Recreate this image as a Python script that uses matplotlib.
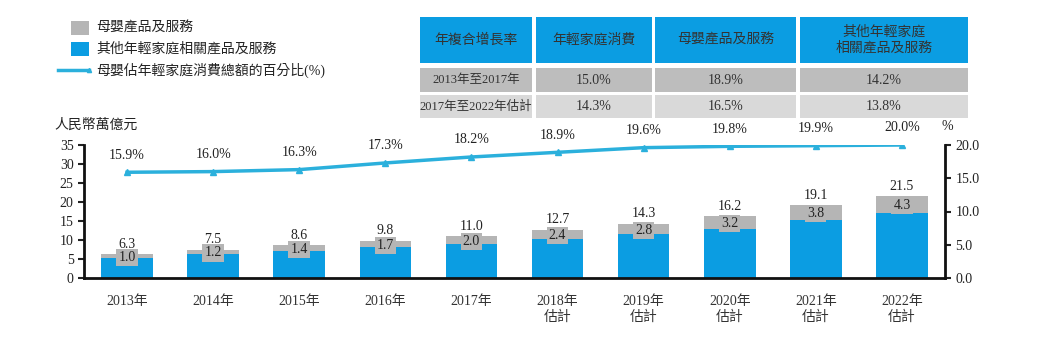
import matplotlib
matplotlib.use("Agg")
import matplotlib.pyplot as plt
from matplotlib.patches import Rectangle
from matplotlib.lines import Line2D

plt.rcParams['font.family'] = ['Liberation Serif', 'Noto Sans CJK TC']

years = ["2013年", "2014年", "2015年", "2016年", "2017年",
         "2018年\n估計", "2019年\n估計", "2020年\n估計", "2021年\n估計", "2022年\n估計"]
totals = [6.3, 7.5, 8.6, 9.8, 11.0, 12.7, 14.3, 16.2, 19.1, 21.5]
maternal = [1.0, 1.2, 1.4, 1.7, 2.0, 2.4, 2.8, 3.2, 3.8, 4.3]
others = [round(t - m, 1) for t, m in zip(totals, maternal)]
pct = [15.9, 16.0, 16.3, 17.3, 18.2, 18.9, 19.6, 19.8, 19.9, 20.0]

legend_labels = ["母嬰產品及服務", "其他年輕家庭相關產品及服務", "母嬰佔年輕家庭消費總額的百分比(%)"]
table_header = ["年複合增長率", "年輕家庭消費", "母嬰產品及服務", "其他年輕家庭\n相關產品及服務"]
table_rows = [["2013年至2017年", "15.0%", "18.9%", "14.2%"],
              ["2017年至2022年估計", "14.3%", "16.5%", "13.8%"]]

BLUE = "#0b9de2"
GRAY = "#b5b5b5"
LINE = "#2bb0dc"

fig = plt.figure(figsize=(10.4, 3.45), dpi=100)
W, H = 1040, 345
ax = fig.add_axes([84 / W, (H - 278) / H, (945 - 84) / W, (278 - 145) / H])
ax2 = ax.twinx()

x = list(range(len(years)))
ax.bar(x, others, width=0.6, color=BLUE, zorder=2)
ax.bar(x, maternal, bottom=others, width=0.6, color=GRAY, zorder=2)

for i in x:
    ax.text(i, others[i] + maternal[i] / 2 - 0.3, f"{maternal[i]:.1f}", ha='center', va='center',
            fontsize=10, color='#222222', zorder=4,
            bbox=dict(boxstyle='square,pad=0.15', fc=GRAY, ec='none'))
    ax.text(i, totals[i] + 0.9, f"{totals[i]:.1f}", ha='center', va='bottom',
            fontsize=10, color='#222222', zorder=4)

ax.set_xlim(-0.5, 9.5)
ax.set_ylim(0, 35)
ax.set_yticks(range(0, 36, 5))
ax.set_xticks(x)
ax.set_xticklabels(years, fontsize=10, color='#333333', linespacing=1.3)
ax.tick_params(axis='x', length=0, pad=12)
ax.tick_params(axis='y', labelsize=10, length=4, width=1.5, colors='#222222')

ax2.plot(x, pct, color=LINE, lw=2.5, marker='^', ms=4, zorder=3)
for i in x:
    ax2.text(i, pct[i] + 1.6, f"{pct[i]:.1f}%", ha='center', va='bottom', fontsize=10, color='#222222')
ax2.set_ylim(0, 20)
ax2.set_yticks([0, 5, 10, 15, 20])
ax2.set_yticklabels([f"{v:.1f}" for v in [0, 5, 10, 15, 20]])
ax2.tick_params(axis='y', labelsize=10, length=4, width=1.5, colors='#222222')

for a in (ax, ax2):
    a.spines['top'].set_visible(False)
    for s in ('left', 'right', 'bottom'):
        a.spines[s].set_linewidth(2)
        a.spines[s].set_color('#111111')
ax.spines['right'].set_visible(False)
ax2.spines['left'].set_visible(False)
ax2.spines['bottom'].set_visible(False)

fig.text(54 / W, (H - 125) / H, "人民幣萬億元", fontsize=10, va='center', ha='left', color='#222222')
fig.text(941 / W, (H - 126) / H, "%", fontsize=10, va='center', ha='left', color='#222222')

# legend
fig.patches.append(Rectangle((71 / W, (H - 35) / H), 18 / W, 14 / H, transform=fig.transFigure,
                             fc=GRAY, ec='none'))
fig.patches.append(Rectangle((71 / W, (H - 56) / H), 18 / W, 14 / H, transform=fig.transFigure,
                             fc=BLUE, ec='none'))
fig.lines.append(Line2D([58 / W, 89 / W], [(H - 70) / H] * 2, transform=fig.transFigure,
                        color=LINE, lw=2.5, marker='^', ms=3, markevery=[1]))
for k, yy in enumerate([28, 49, 70]):
    fig.text(96 / W, (H - yy) / H, legend_labels[k], fontsize=10, va='center', ha='left', color='#222222')

# table
cols = [(420, 532), (536, 652), (655, 796), (800, 968)]
rows = [(17, 63, BLUE), (68, 92, "#bdbdbd"), (95, 118, "#d9d9d9")]
for r, (y0, y1, c) in enumerate(rows):
    for ci, (x0, x1) in enumerate(cols):
        fig.patches.append(Rectangle((x0 / W, (H - y1) / H), (x1 - x0) / W, (y1 - y0) / H,
                                     transform=fig.transFigure, fc=c, ec='none'))
        txt = table_header[ci] if r == 0 else table_rows[r - 1][ci]
        fs = 10 if (r == 0 or ci > 0) else 9
        fig.text((x0 + x1) / 2 / W, (H - (y0 + y1) / 2) / H, txt, fontsize=fs, ha='center', va='center',
                 color='#333333', linespacing=1.2)

fig.savefig("out.png", dpi=100)
